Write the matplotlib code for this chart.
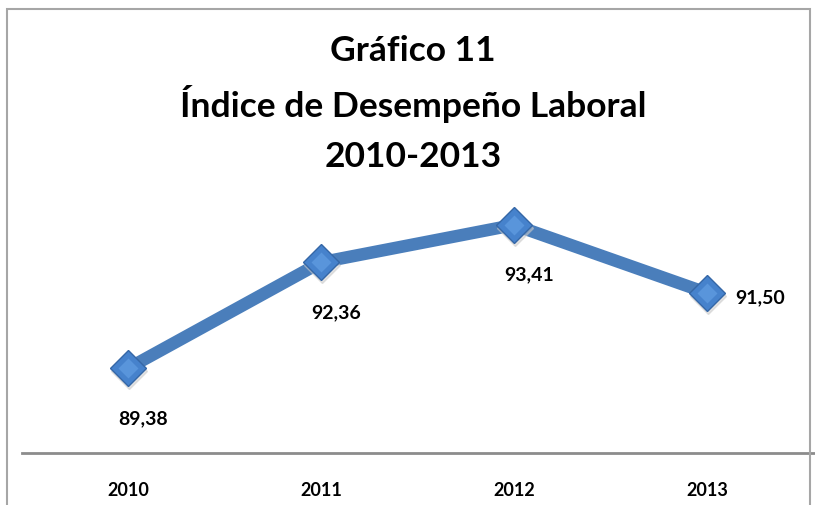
import matplotlib
matplotlib.use("Agg")
import matplotlib.pyplot as plt
import matplotlib.transforms as mtransforms
from matplotlib.patches import Rectangle

years = ["2010", "2011", "2012", "2013"]
values = [89.38, 92.36, 93.41, 91.50]
labels = ["89,38", "92,36", "93,41", "91,50"]

W, H = 815, 506
fig = plt.figure(figsize=(W / 100, H / 100), dpi=100)
fig.patch.set_facecolor("white")

# outer chart border (bottom edge cut off)
fig.add_artist(Rectangle((7 / W, -0.1), (810 - 7) / W, 1.1 - 10 / H,
                         transform=fig.transFigure, fill=False,
                         edgecolor="#a6a6a6", linewidth=1.5, clip_on=False))

ax = fig.add_axes([22 / W, (H - 454) / H, (815 - 22) / W, (454 - 205) / H])
x = list(range(len(years)))
ax.plot(x, values, color="#4a7ebb", linewidth=9, solid_joinstyle="miter", zorder=2)
# soft shadow under markers
shadow = ax.transData + mtransforms.ScaledTranslation(1 / 100, -3 / 100, fig.dpi_scale_trans)
ax.plot(x, values, linestyle="none", marker="D", markersize=18.5, color="#c8c8c8",
        alpha=0.5, zorder=2.5, transform=shadow)
ax.plot(x, values, linestyle="none", marker="D", markersize=18,
        markerfacecolor="#4682cc", markeredgecolor="#3567a6", markeredgewidth=1.0, zorder=3)
ax.plot(x, values, linestyle="none", marker="D", markersize=10,
        markerfacecolor="#5f9be0", markeredgecolor="none", alpha=0.8, zorder=4)

lab_font = dict(family=["Lato", "DejaVu Sans"], fontweight="bold", fontsize=14, color="black")
for i, (v, t) in enumerate(zip(values, labels)):
    if i == len(values) - 1:
        ax.annotate(t, (i, v), xytext=(28, -4), textcoords="offset pixels",
                    ha="left", va="center", **lab_font)
    else:
        ax.annotate(t, (i, v), xytext=(15, -49), textcoords="offset pixels",
                    ha="center", va="center", **lab_font)

ax.set_xlim(-0.549, 3.56)
ax.set_ylim(87.0, 94.0)
ax.set_xticks(x)
ax.set_xticklabels(years, fontfamily=["Lato", "DejaVu Sans"], fontweight="bold", fontsize=13)
ax.tick_params(axis="x", length=0, pad=20)
ax.set_yticks([])
for s in ["top", "right", "left"]:
    ax.spines[s].set_visible(False)
ax.spines["bottom"].set_color("#8c8c8c")
ax.spines["bottom"].set_linewidth(2)
ax.patch.set_alpha(0)

title_font = dict(family=["Lato", "DejaVu Sans"], fontweight="bold", fontsize=25.5, color="black",
                  ha="center", va="center")
fig.text(413 / W, 1 - 51 / H, "Gráfico 11", **title_font)
fig.text(413 / W, 1 - 104 / H, "Índice de Desempeño Laboral", **title_font)
fig.text(413 / W, 1 - 157 / H, "2010-2013", **title_font)

fig.savefig("out.png", dpi=100, facecolor="white")
